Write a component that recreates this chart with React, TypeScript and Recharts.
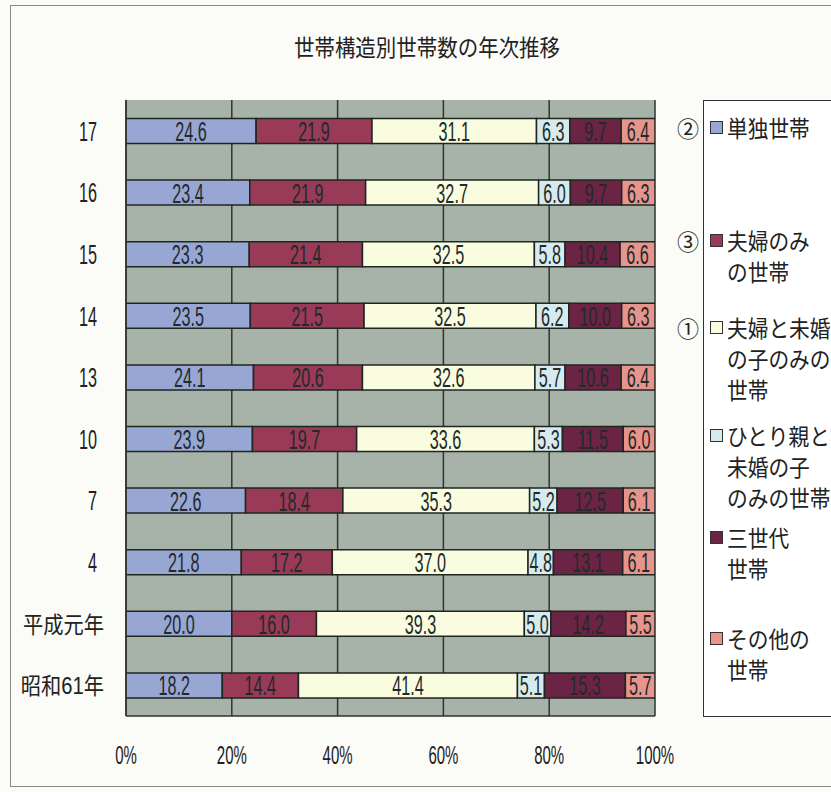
import React from 'react';
import { BarChart, Bar, XAxis, YAxis, CartesianGrid, LabelList } from 'recharts';

const years = ['17', '16', '15', '14', '13', '10', '7', '4', '平成元年', '昭和61年'];

const single = [24.6, 23.4, 23.3, 23.5, 24.1, 23.9, 22.6, 21.8, 20.0, 18.2];
const coupleOnly = [21.9, 21.9, 21.4, 21.5, 20.6, 19.7, 18.4, 17.2, 16.0, 14.4];
const coupleChildren = [31.1, 32.7, 32.5, 32.5, 32.6, 33.6, 35.3, 37.0, 39.3, 41.4];
const singleParent = [6.3, 6.0, 5.8, 6.2, 5.7, 5.3, 5.2, 4.8, 5.0, 5.1];
const threeGen = [9.7, 9.7, 10.4, 10.0, 10.6, 11.5, 12.5, 13.1, 14.2, 15.3];
const other = [6.4, 6.3, 6.6, 6.3, 6.4, 6.0, 6.1, 6.1, 5.5, 5.7];

const xTicks = [0, 20, 40, 60, 80, 100];

const series = [
  { key: 'single', values: single, color: '#98a6d4', legend: ['単独世帯'], mark: '②' },
  { key: 'coupleOnly', values: coupleOnly, color: '#983a58', legend: ['夫婦のみ', 'の世帯'], mark: '③' },
  { key: 'coupleChildren', values: coupleChildren, color: '#fafce0', legend: ['夫婦と未婚', 'の子のみの', '世帯'], mark: '①' },
  { key: 'singleParent', values: singleParent, color: '#d7ebee', legend: ['ひとり親と', '未婚の子', 'のみの世帯'], mark: '' },
  { key: 'threeGen', values: threeGen, color: '#6b2444', legend: ['三世代', '世帯'], mark: '' },
  { key: 'other', values: other, color: '#e7948c', legend: ['その他の', '世帯'], mark: '' },
];

const data = years.map((year, i) => {
  const row: Record<string, number | string> = { year };
  series.forEach((s) => {
    row[s.key] = s.values[i];
  });
  return row;
});

const sans = "'Liberation Sans', 'Noto Sans CJK JP', sans-serif";
const cjk = "'Noto Sans CJK JP', sans-serif";

// condensed look of the original typeface
const BarValue = (props: any) => {
  const vb = props.viewBox && props.viewBox.width !== undefined ? props.viewBox : props;
  const cx = Number(vb.x) + Number(vb.width) / 2;
  const cy = Number(vb.y) + Number(vb.height) / 2;
  return (
    <text
      transform={`translate(${cx},${cy + 1}) scale(0.6,1)`}
      textAnchor="middle"
      dominantBaseline="central"
      fontSize={27}
      fontFamily={sans}
      fill="#222a2a"
    >
      {Number(props.value).toFixed(1)}
    </text>
  );
};

const YTick = (props: any) => {
  const { x, y, payload } = props;
  const label = String(payload.value);
  const isCjk = /[^\x00-\x7f]/.test(label);
  return (
    <text
      transform={`translate(${isCjk ? x : x - 7},${y + 1}) scale(${isCjk ? 0.88 : 0.6},1)`}
      textAnchor="end"
      dominantBaseline="central"
      fontSize={isCjk ? 23 : 27}
      fontFamily={sans}
      fill="#222"
    >
      {label}
    </text>
  );
};

const XTick = (props: any) => {
  const { x, y, payload } = props;
  return (
    <text
      transform={`translate(${x},${y}) scale(0.6,1)`}
      textAnchor="middle"
      dominantBaseline="central"
      fontSize={25}
      fontFamily={sans}
      fill="#222"
    >
      {`${payload.value}%`}
    </text>
  );
};

// centre of the first line of each legend entry
const legendTops = [127, 240, 327, 435, 537, 638];
const lineH = 31;

const Legend6 = () => (
  <>
    <div
      style={{
        position: 'absolute',
        left: 703,
        top: 100,
        width: 140,
        height: 617,
        border: '1px solid #333',
        background: '#fff',
        boxSizing: 'border-box',
      }}
    />
    {series.map((s, i) => (
      <React.Fragment key={s.key}>
        {s.mark && (
          <div
            style={{
              position: 'absolute',
              left: 676,
              top: legendTops[i] - lineH / 2,
              width: 24,
              lineHeight: `${lineH}px`,
              fontSize: 22,
              fontFamily: cjk,
              color: '#222',
              textAlign: 'center',
            }}
          >
            {s.mark}
          </div>
        )}
        <div
          style={{
            position: 'absolute',
            left: 710,
            top: legendTops[i] - 6,
            width: 11,
            height: 11,
            background: s.color,
            border: '1px solid #333',
          }}
        />
        {s.legend.map((line, j) => (
          <div
            key={j}
            style={{
              position: 'absolute',
              left: 727,
              top: legendTops[i] - lineH / 2 + j * lineH,
              lineHeight: `${lineH}px`,
              fontSize: 23,
              fontFamily: cjk,
              color: '#222',
              whiteSpace: 'nowrap',
              transform: 'scaleX(0.9)',
              transformOrigin: 'left center',
            }}
          >
            {line}
          </div>
        ))}
      </React.Fragment>
    ))}
  </>
);

export default function App() {
  return (
    <div
      style={{
        position: 'absolute',
        left: 0,
        top: 0,
        width: 831,
        height: 792,
        overflow: 'hidden',
        background: '#fbfbf8',
      }}
    >
      <div
        style={{
          position: 'absolute',
          left: 10,
          top: 5,
          width: 840,
          height: 782,
          border: '1px solid #8a8a8a',
          boxSizing: 'border-box',
        }}
      />
      <div
        style={{
          position: 'absolute',
          left: 0,
          width: 854,
          top: 29,
          textAlign: 'center',
          fontSize: 23,
          fontFamily: cjk,
          color: '#222',
          transform: 'scaleX(0.89)',
          transformOrigin: '427px 50%',
        }}
      >
        世帯構造別世帯数の年次推移
      </div>
      <div style={{ position: 'absolute', left: 0, top: 0 }}>
        <BarChart
          width={831}
          height={792}
          data={data}
          layout="vertical"
          barCategoryGap="30%"
          margin={{ top: 100, right: 176, bottom: 26, left: 0 }}
        >
          <CartesianGrid horizontal={false} stroke="#2f3530" strokeWidth={1.5} fill="#a7b2a8" />
          <XAxis
            type="number"
            domain={[0, 100]}
            ticks={xTicks}
            allowDataOverflow
            tick={<XTick />}
            tickLine={false}
            tickSize={0}
            tickMargin={39}
            height={50}
            axisLine={{ stroke: '#2f3530', strokeWidth: 1.5 }}
          />
          <XAxis
            xAxisId="top"
            orientation="top"
            type="number"
            domain={[0, 100]}
            tick={false}
            tickLine={false}
            height={0}
            axisLine={{ stroke: '#2f3530', strokeWidth: 1.5 }}
          />
          <YAxis
            type="category"
            dataKey="year"
            width={126}
            tick={<YTick />}
            tickLine={false}
            tickSize={0}
            tickMargin={22}
            axisLine={{ stroke: '#2f3530', strokeWidth: 1.5 }}
          />
          {series.map((s) => (
            <Bar
              key={s.key}
              dataKey={s.key}
              stackId="a"
              fill={s.color}
              stroke="#1e2620"
              strokeWidth={1.5}
              isAnimationActive={false}
            >
              <LabelList dataKey={s.key} content={<BarValue />} />
            </Bar>
          ))}
        </BarChart>
      </div>
      <Legend6 />
    </div>
  );
}
